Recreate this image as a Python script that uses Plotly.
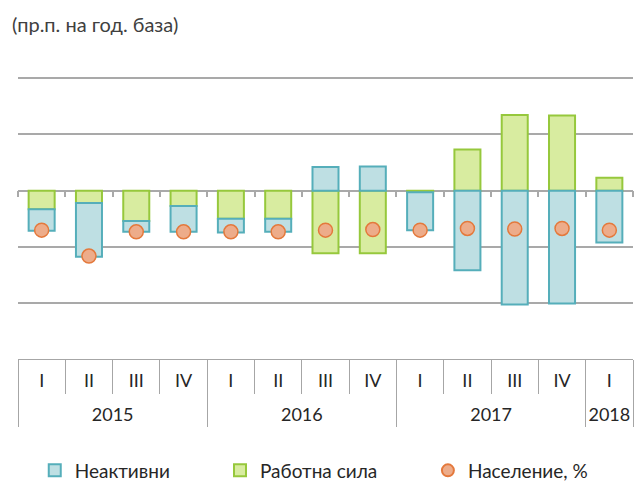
import plotly.graph_objects as go

# ---- data ----
quarters = ["I", "II", "III", "IV", "I", "II", "III", "IV", "I", "II", "III", "IV", "I"]
years = ["2015", "2015", "2015", "2015", "2016", "2016", "2016", "2016",
         "2017", "2017", "2017", "2017", "2018"]
year_labels = ["2015", "2016", "2017", "2018"]
categories = [f"{y}-{q}" for y, q in zip(years, quarters)]

inactive = [-0.38, -0.95, -0.19, -0.46, -0.24, -0.23, 0.42, 0.43, -0.67, -1.41, -2.02, -2.00, -0.92]
labour = [-0.33, -0.22, -0.54, -0.27, -0.50, -0.50, -1.11, -1.11, -0.03, 0.73, 1.34, 1.33, 0.23]
population = [-0.70, -1.16, -0.73, -0.73, -0.73, -0.73, -0.70, -0.69, -0.70, -0.67, -0.68, -0.67, -0.70]

y_ticks = [-2, -1, 0, 1, 2]

# ---- derived positions for the category table ----
n = len(categories)
boundaries = [i - 0.5 for i in range(n + 1)]
centers = list(range(n))
year_groups = []
for i, y in enumerate(years):
    if not year_groups or year_groups[-1][0] != y:
        year_groups.append([y, i, i])
    else:
        year_groups[-1][2] = i
year_bounds = [g[1] - 0.5 for g in year_groups] + [year_groups[-1][2] + 0.5]
year_centers = [(g[1] + g[2]) / 2 for g in year_groups]

FONT = "Lato, 'Open Sans', sans-serif"
GRID = "#A9A9A9"
TABLE = "#A6A6A6"
TXT = "#262626"

fig = go.Figure()

fig.add_trace(go.Bar(
    x=categories, y=labour, name="Работна сила",
    marker=dict(color="#D8ECA0", line=dict(color="#96C83C", width=2)),
    legend="legend2",
))
fig.add_trace(go.Bar(
    x=categories, y=inactive, name="Неактивни",
    marker=dict(color="#BEDFE3", line=dict(color="#55AEBA", width=2)),
    legend="legend",
))
fig.add_trace(go.Scatter(
    x=categories, y=population, name="Население, %", mode="markers",
    marker=dict(size=14, color="#EDAC8A", line=dict(color="#E4793C", width=1.5)),
    legend="legend3",
))

# helper (empty) traces so overlay axes are drawn
for ax in ["x2", "x3", "x4", "x5"]:
    fig.add_trace(go.Scatter(x=[], y=[], xaxis=ax, yaxis="y",
                             showlegend=False, hoverinfo="skip"))

t, b, l, r = 75, 122, 18, 2
H, W = 481, 635
ph = H - t - b
zero_frac = (H - b - 190.7) / ph
dom_bottom = (H - b - 306.3) / ph

common_lin = dict(type="linear", range=[-0.5, n - 0.5], overlaying="x",
                  anchor="free", position=0, side="bottom",
                  showgrid=False, zeroline=False, fixedrange=True)

legend_common = dict(orientation="h", xanchor="left", xref="container", yref="container",
                     y=1 - 470.5 / H, yanchor="middle",
                     font=dict(family=FONT, size=19, color=TXT),
                     bgcolor="rgba(0,0,0,0)")

fig.update_layout(
    width=W, height=H,
    margin=dict(t=t, b=b, l=l, r=r, autoexpand=False),
    paper_bgcolor="white", plot_bgcolor="white",
    barmode="relative", bargap=0.45,
    font=dict(family=FONT, size=18, color=TXT),
    title=dict(text="(пр.п. на год. база)", x=12 / W, xanchor="left",
               xref="container", yref="container",
               y=1 - 25 / H, yanchor="middle",
               font=dict(family=FONT, size=20, color="#404040")),
    xaxis=dict(type="category", categoryorder="array", categoryarray=categories,
               range=[-0.5, n - 0.5], anchor="free", position=zero_frac,
               showline=True, linecolor=GRID, linewidth=1.5,
               ticks="outside", tickson="boundaries", ticklen=6, tickwidth=1.5,
               tickcolor=GRID, showticklabels=False, showgrid=False,
               layer="below traces"),
    xaxis2=dict(**common_lin, tickmode="array", tickvals=boundaries,
                ticks="outside", ticklen=34, tickwidth=1, tickcolor=TABLE,
                showline=True, linecolor=TABLE, linewidth=1,
                showticklabels=False),
    xaxis3=dict(**common_lin, tickmode="array", tickvals=centers, ticktext=quarters,
                ticks="", showline=False, ticklabelstandoff=9,
                tickfont=dict(family=FONT, size=18, color=TXT)),
    xaxis4=dict(**common_lin, tickmode="array", tickvals=year_bounds,
                ticks="outside", ticklen=67, tickwidth=1, tickcolor=TABLE,
                showline=False, showticklabels=False),
    xaxis5=dict(**common_lin, tickmode="array", tickvals=year_centers, ticktext=year_labels,
                ticks="", showline=False, ticklabelstandoff=43,
                tickfont=dict(family=FONT, size=18, color=TXT)),
    yaxis=dict(domain=[dom_bottom, 1], range=[-2.05, 2.05],
               tickmode="array", tickvals=y_ticks, showticklabels=False,
               showgrid=True, gridcolor=GRID, gridwidth=1.5,
               zeroline=False, showline=False, fixedrange=True),
    legend=dict(**legend_common, x=34.75 / W),
    legend2=dict(**legend_common, x=220 / W),
    legend3=dict(**legend_common, x=427.9 / W, itemsizing="constant"),
    showlegend=True,
)

fig.write_html("out.html",
               config={"displayModeBar": False},
               post_script="document.body.style.margin='0';"
                           "document.body.style.overflow='hidden';")
